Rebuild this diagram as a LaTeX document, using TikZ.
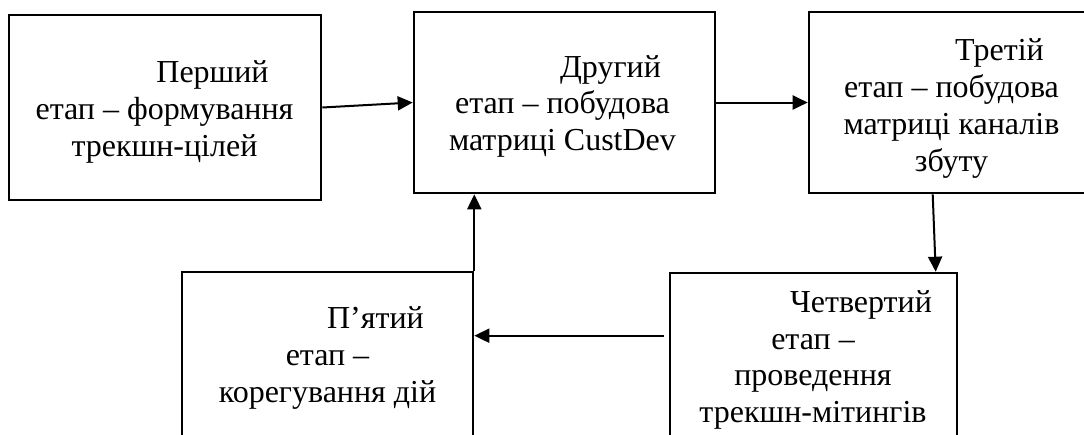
\documentclass[tikz,border=0pt]{standalone}
\usepackage{fontspec}
\setmainfont{Liberation Serif}
\usetikzlibrary{arrows.meta}
\begin{document}
\begin{tikzpicture}[x=1pt,y=-1pt,
  stage/.style={draw, line width=2.6pt, rectangle, inner sep=0pt},
  stagetext/.style={align=center, anchor=base, inner sep=0pt,
    font=\fontsize{32}{36.8}\selectfont},
  flow/.style={line width=2pt, -{Triangle[length=15pt,width=14pt]}}]
\clip (0,0) rectangle (1084,434);
\fill[white] (0,0) rectangle (1084,434);

% stage frames
\node[stage, minimum width=312pt, minimum height=185pt] (s1) at (165,107.5) {};
\node[stage, minimum width=301pt, minimum height=181pt] (s2) at (564.5,102.5) {};
\node[stage, minimum width=285pt, minimum height=181pt] (s3) at (951.5,102.5) {};
\node[stage, minimum width=287pt, minimum height=187pt] (s4) at (813.5,366.5) {};
\node[stage, minimum width=291pt, minimum height=188pt] (s5) at (327.5,366) {};

% stage captions (first line indented); anchored on the last baseline
\node[stagetext] (t1) at (164.5,156.5) {\hspace*{96pt}Перший\\етап – формування\\трекшн-цілей};
\node[stagetext] (t2) at (562.5,150.6) {\hspace*{96pt}Другий\\етап – побудова\\матриці CustDev};
\node[stagetext] (t3) at (951.5,171) {\hspace*{96pt}Третій\\етап – побудова\\матриці каналів\\збуту};
\node[stagetext] (t4) at (813,422.6) {\hspace*{96pt}Четвертий\\етап –\\проведення\\трекшн-мітингів};
\node[stagetext] (t5) at (327.5,402) {\hspace*{96pt}П’ятий\\етап –\\корегування дій};

% flow between stages
\draw[flow] (s1.east) -- (s2.west);
\draw[flow] (s2.east) -- (s3.west);
\draw[flow] ([xshift=125pt]s3.south west) -- ([xshift=267pt]s4.north west);
\draw[flow, shorten <=5pt] ([yshift=-64pt]s4.north west) -- ([yshift=-64pt]s4.north west -| s5.east);
\draw[flow] (s5.north east) -- (s5.north east |- s2.south);
\end{tikzpicture}
\end{document}
